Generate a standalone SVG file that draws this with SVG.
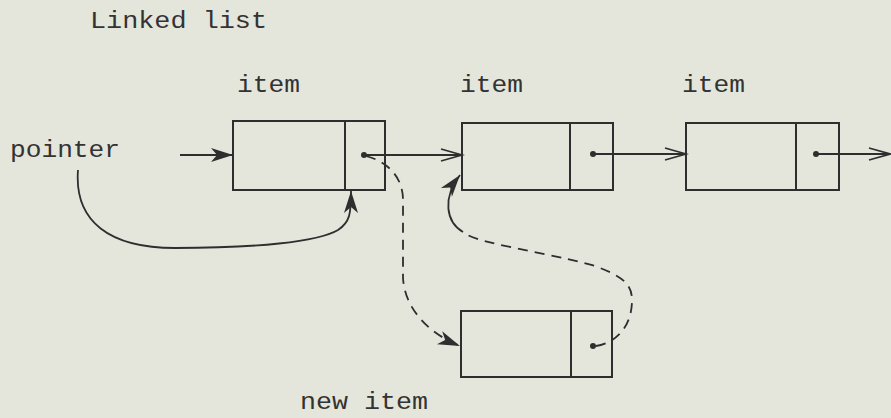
<svg xmlns="http://www.w3.org/2000/svg" width="891" height="418" viewBox="0 0 891 418">
  <style>
    .bg { fill: #e4e6dc; }
    .box { fill: none; stroke: #2e2e2e; stroke-width: 2; }
    .link { fill: none; stroke: #2e2e2e; stroke-width: 1.8; }
    .dash { fill: none; stroke: #2e2e2e; stroke-width: 1.8; stroke-dasharray: 10 7; }
    .dot { fill: #2e2e2e; }
    text { font-family: "Liberation Mono", "Courier New", monospace; font-size: 23px; fill: #333333; }
  </style>
  <defs>
    <marker id="head" markerUnits="userSpaceOnUse" markerWidth="26" markerHeight="18" refX="24" refY="8" orient="auto">
      <path d="M2,1 L24,8 L2,15 L8,8 Z" fill="#2e2e2e"/>
    </marker>
    <marker id="chev" markerUnits="userSpaceOnUse" markerWidth="26" markerHeight="18" refX="23" refY="8" orient="auto">
      <path d="M2,2 L23,8 L2,14" fill="none" stroke="#2e2e2e" stroke-width="1.8"/>
    </marker>
  </defs>

  <rect class="bg" x="0" y="0" width="891" height="418"/>

  <text x="90" y="28" textLength="177" lengthAdjust="spacingAndGlyphs">Linked list</text>
  <text x="10" y="157" textLength="110" lengthAdjust="spacingAndGlyphs">pointer</text>

  <g id="item1">
    <text x="237" y="92" textLength="63" lengthAdjust="spacingAndGlyphs">item</text>
    <rect class="box" x="233" y="121" width="152" height="69"/>
    <line class="box" x1="345" y1="121" x2="345" y2="190"/>
    <circle class="dot" cx="364" cy="155" r="3"/>
  </g>

  <g id="item2">
    <text x="460" y="92" textLength="63" lengthAdjust="spacingAndGlyphs">item</text>
    <rect class="box" x="462" y="123" width="151" height="67"/>
    <line class="box" x1="570" y1="123" x2="570" y2="190"/>
    <circle class="dot" cx="593" cy="154" r="3"/>
  </g>

  <g id="item3">
    <text x="682" y="92" textLength="63" lengthAdjust="spacingAndGlyphs">item</text>
    <rect class="box" x="686" y="123" width="153" height="67"/>
    <line class="box" x1="796" y1="123" x2="796" y2="190"/>
    <circle class="dot" cx="816" cy="154" r="3"/>
  </g>

  <g id="newitem">
    <text x="300" y="409" textLength="128" lengthAdjust="spacingAndGlyphs">new item</text>
    <rect class="box" x="461" y="311" width="151" height="66"/>
    <line class="box" x1="571" y1="311" x2="571" y2="377"/>
    <circle class="dot" cx="593" cy="346" r="3"/>
  </g>

  <g id="connectors">
    <!-- head pointer -->
    <line class="link" x1="180" y1="155" x2="233" y2="155" marker-end="url(#head)"/>
    <path class="link" d="M78,170 C74,222 110,248 175,248 C255,248 318,242 338,230 C350,222 351,214 351,191" marker-end="url(#head)"/>
    <!-- next links -->
    <line class="link" x1="364" y1="155" x2="462" y2="155" marker-end="url(#chev)"/>
    <line class="link" x1="593" y1="154" x2="686" y2="154" marker-end="url(#chev)"/>
    <line class="link" x1="816" y1="154" x2="890" y2="154" marker-end="url(#chev)"/>
    <!-- new item inserted after item 1 -->
    <path class="dash" d="M366,156 C386,161 403,176 403,200 L403,278 C405,310 430,334 460,346" marker-end="url(#head)"/>
    <path class="dash" d="M596,346 C612,344 632,330 632,300 C632,284 622,276 595,266 C565,257 520,250 484,241 C474,238 468,236 463,232"/>
    <path class="link" d="M463,232 C446,222 442,198 460,175" marker-end="url(#head)"/>
  </g>
</svg>
